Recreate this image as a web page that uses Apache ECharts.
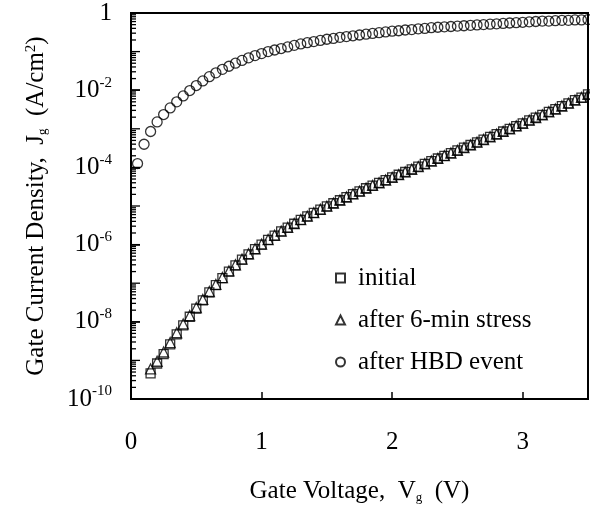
<!DOCTYPE html>
<html>
<head>
<meta charset="utf-8">
<script src="https://cdn.jsdelivr.net/npm/echarts@6/dist/echarts.min.js"></script>
<style>html,body{margin:0;padding:0;background:#fff;}#c{width:590px;height:509px;}</style>
</head>
<body>
<div id="c"></div>
<script>
// Gate voltage (V) for the HBD curve
const voltsHBD = [0.05,0.10,0.15,0.20,0.25,0.30,0.35,0.40,0.45,0.50,0.55,0.60,0.65,0.70,0.75,0.80,0.85,0.90,0.95,1.00,
  1.05,1.10,1.15,1.20,1.25,1.30,1.35,1.40,1.45,1.50,1.55,1.60,1.65,1.70,1.75,1.80,1.85,1.90,1.95,2.00,
  2.05,2.10,2.15,2.20,2.25,2.30,2.35,2.40,2.45,2.50,2.55,2.60,2.65,2.70,2.75,2.80,2.85,2.90,2.95,3.00,
  3.05,3.10,3.15,3.20,3.25,3.30,3.35,3.40,3.45,3.50];
// Gate voltage (V) for initial / stressed curves
const voltsStress = [0.15,0.20,0.25,0.30,0.35,0.40,0.45,0.50,0.55,0.60,0.65,0.70,0.75,0.80,0.85,0.90,0.95,1.00,
  1.05,1.10,1.15,1.20,1.25,1.30,1.35,1.40,1.45,1.50,1.55,1.60,1.65,1.70,1.75,1.80,1.85,1.90,1.95,2.00,
  2.05,2.10,2.15,2.20,2.25,2.30,2.35,2.40,2.45,2.50,2.55,2.60,2.65,2.70,2.75,2.80,2.85,2.90,2.95,3.00,
  3.05,3.10,3.15,3.20,3.25,3.30,3.35,3.40,3.45,3.50];
// Jg (A/cm^2)
const jInitial = [4.6e-10,8.3e-10,1.45e-9,2.6e-9,4.7e-9,8.1e-9,1.35e-8,2.2e-8,3.6e-8,5.8e-8,
  8.9e-8,1.35e-7,2.0e-7,2.9e-7,4.1e-7,5.6e-7,7.6e-7,1.0e-6,1.32e-6,1.7e-6,
  2.19e-6,2.75e-6,3.47e-6,4.37e-6,5.37e-6,6.6e-6,8.1e-6,9.8e-6,1.18e-5,1.41e-5,
  1.7e-5,2.04e-5,2.4e-5,2.88e-5,3.39e-5,3.98e-5,4.68e-5,5.5e-5,6.46e-5,7.59e-5,
  8.9e-5,1.05e-4,1.23e-4,1.45e-4,1.7e-4,2.0e-4,2.34e-4,2.75e-4,3.24e-4,3.8e-4,
  4.47e-4,5.25e-4,6.17e-4,7.24e-4,8.5e-4,1.0e-3,1.18e-3,1.38e-3,1.66e-3,1.95e-3,
  2.29e-3,2.75e-3,3.24e-3,3.89e-3,4.57e-3,5.5e-3,6.46e-3,7.76e-3];
const jStress = [6.0e-10,9.5e-10,1.65e-9,2.9e-9,5.2e-9,8.8e-9,1.45e-8,2.35e-8,3.8e-8,6.1e-8,
  9.3e-8,1.4e-7,2.08e-7,3.0e-7,4.2e-7,5.8e-7,7.8e-7,1.03e-6,1.35e-6,1.74e-6,
  2.23e-6,2.8e-6,3.52e-6,4.43e-6,5.45e-6,6.7e-6,8.2e-6,9.9e-6,1.19e-5,1.42e-5,
  1.71e-5,2.05e-5,2.42e-5,2.9e-5,3.41e-5,4.0e-5,4.7e-5,5.52e-5,6.5e-5,7.62e-5,
  8.95e-5,1.05e-4,1.24e-4,1.46e-4,1.71e-4,2.01e-4,2.35e-4,2.76e-4,3.25e-4,3.82e-4,
  4.49e-4,5.27e-4,6.2e-4,7.27e-4,8.53e-4,1.0e-3,1.19e-3,1.39e-3,1.67e-3,1.96e-3,
  2.3e-3,2.76e-3,3.25e-3,3.9e-3,4.6e-3,5.52e-3,6.5e-3,7.8e-3];
const jHBD = [1.26e-4,3.98e-4,8.5e-4,1.51e-3,2.34e-3,3.47e-3,5.0e-3,7.1e-3,9.8e-3,1.32e-2,
  1.74e-2,2.24e-2,2.82e-2,3.47e-2,4.17e-2,5.0e-2,5.9e-2,6.9e-2,7.9e-2,8.9e-2,
  0.100,0.110,0.120,0.132,0.145,0.158,0.170,0.182,0.195,0.209,
  0.219,0.234,0.245,0.257,0.269,0.282,0.295,0.309,0.324,0.339,
  0.347,0.363,0.372,0.389,0.398,0.417,0.427,0.437,0.447,0.457,
  0.468,0.479,0.490,0.501,0.513,0.525,0.537,0.550,0.562,0.575,
  0.589,0.603,0.617,0.617,0.631,0.646,0.646,0.661,0.661,0.676];
const seriesNames = ['initial','after 6-min stress','after HBD event'];
const xTickLabels = ['0','1','2','3'];
const yTickExponents = [-10,-8,-6,-4,-2,0];

// log tick values (axis decoration)
const minorTicks = [];
for (let e = -10; e < 0; e++) for (let k = 2; k <= 9; k++) minorTicks.push(k * Math.pow(10, e));
const decadeTicks = [];
for (let e = -9; e < 0; e++) decadeTicks.push(Math.pow(10, e));

const FONT = 'Liberation Serif, Times New Roman, serif';
const pair = (xs, ys) => xs.map((x, i) => [x, ys[i]]);
const hollow = {color: 'rgba(0,0,0,0)', borderColor: '#000', borderWidth: 1.3};

const chart = echarts.init(document.getElementById('c'), null, {renderer: 'canvas'});
chart.setOption({
  backgroundColor: '#fff',
  animation: false,
  grid: {left: 131, right: 2, top: 13, bottom: 105, show: true, borderColor: '#000', borderWidth: 2, backgroundColor: 'transparent'},
  legend: {
    data: seriesNames,
    orient: 'vertical',
    left: 335, top: 263,
    padding: 0,
    itemGap: 12,
    itemWidth: 9, itemHeight: 9,
    textStyle: {fontFamily: FONT, fontSize: 25, color: '#000', lineHeight: 30, padding: [0, 0, 0, 8]}
  },
  xAxis: {
    type: 'value', min: 0, max: 3.5, interval: 1,
    axisLine: {show: true, lineStyle: {color: '#000', width: 2}},
    axisTick: {show: true, inside: true, length: 7, lineStyle: {color: '#000', width: 1.5}},
    splitLine: {show: false},
    axisLabel: {
      margin: 31, fontFamily: FONT, fontSize: 25, color: '#000', showMaxLabel: false,
      formatter: v => { const i = xTickLabels.indexOf(String(v)); return i >= 0 ? xTickLabels[i] : ''; }
    },
    name: 'Gate Voltage,  V{sub|g}  (V)',
    nameLocation: 'middle', nameGap: 80,
    nameTextStyle: {fontFamily: FONT, fontSize: 25, color: '#000',
      rich: {sub: {fontFamily: FONT, fontSize: 13, color: '#000', verticalAlign: 'bottom', lineHeight: 22}}}
  },
  yAxis: {
    type: 'log', logBase: 10, min: 1e-10, max: 1, interval: 2,
    axisLine: {show: true, lineStyle: {color: '#000', width: 2}},
    axisTick: {show: true, inside: true, length: 9, lineStyle: {color: '#000', width: 1.5}},
    minorTick: {show: false},
    splitLine: {show: false},
    axisLabel: {
      margin: 19,
      formatter: v => {
        const e = Math.round(Math.log10(v));
        if (yTickExponents.indexOf(e) < 0) return '';
        if (e === 0) return '{b|1}';
        return '{b|10}{s|' + e + '}';
      },
      rich: {
        b: {fontFamily: FONT, fontSize: 25, color: '#000', lineHeight: 30},
        s: {fontFamily: FONT, fontSize: 15, color: '#000', lineHeight: 16, verticalAlign: 'top'}
      }
    },
    name: 'Gate Current Density,  J{sub|g}  (A/cm{sup|2})',
    nameLocation: 'middle', nameGap: 82, nameRotate: 90,
    nameTextStyle: {fontFamily: FONT, fontSize: 25, color: '#000',
      rich: {
        sub: {fontFamily: FONT, fontSize: 13, color: '#000', verticalAlign: 'bottom', lineHeight: 22},
        sup: {fontFamily: FONT, fontSize: 15, color: '#000', verticalAlign: 'top', lineHeight: 16}
      }}
  },
  series: [
    {name: seriesNames[0], type: 'scatter', symbol: 'rect', symbolSize: 9, itemStyle: hollow, data: pair(voltsStress, jInitial), z: 3},
    {name: seriesNames[1], type: 'scatter', symbol: 'triangle', symbolSize: 10, itemStyle: hollow, data: pair(voltsStress, jStress), z: 3},
    {name: seriesNames[2], type: 'scatter', symbol: 'circle', symbolSize: 10, itemStyle: hollow, data: pair(voltsHBD, jHBD), z: 3},
    {
      type: 'custom', silent: true, z: 4, clip: false,
      data: minorTicks.map(v => [0, v, 5]).concat(decadeTicks.map(v => [0, v, 9])),
      renderItem: (params, api) => {
        const p = api.coord([0, api.value(1)]);
        const len = api.value(2);
        return {type: 'line', shape: {x1: p[0], y1: p[1], x2: p[0] + len, y2: p[1]}, style: {stroke: '#000', lineWidth: 1.3}};
      }
    }
  ]
});
</script>
</body>
</html>
